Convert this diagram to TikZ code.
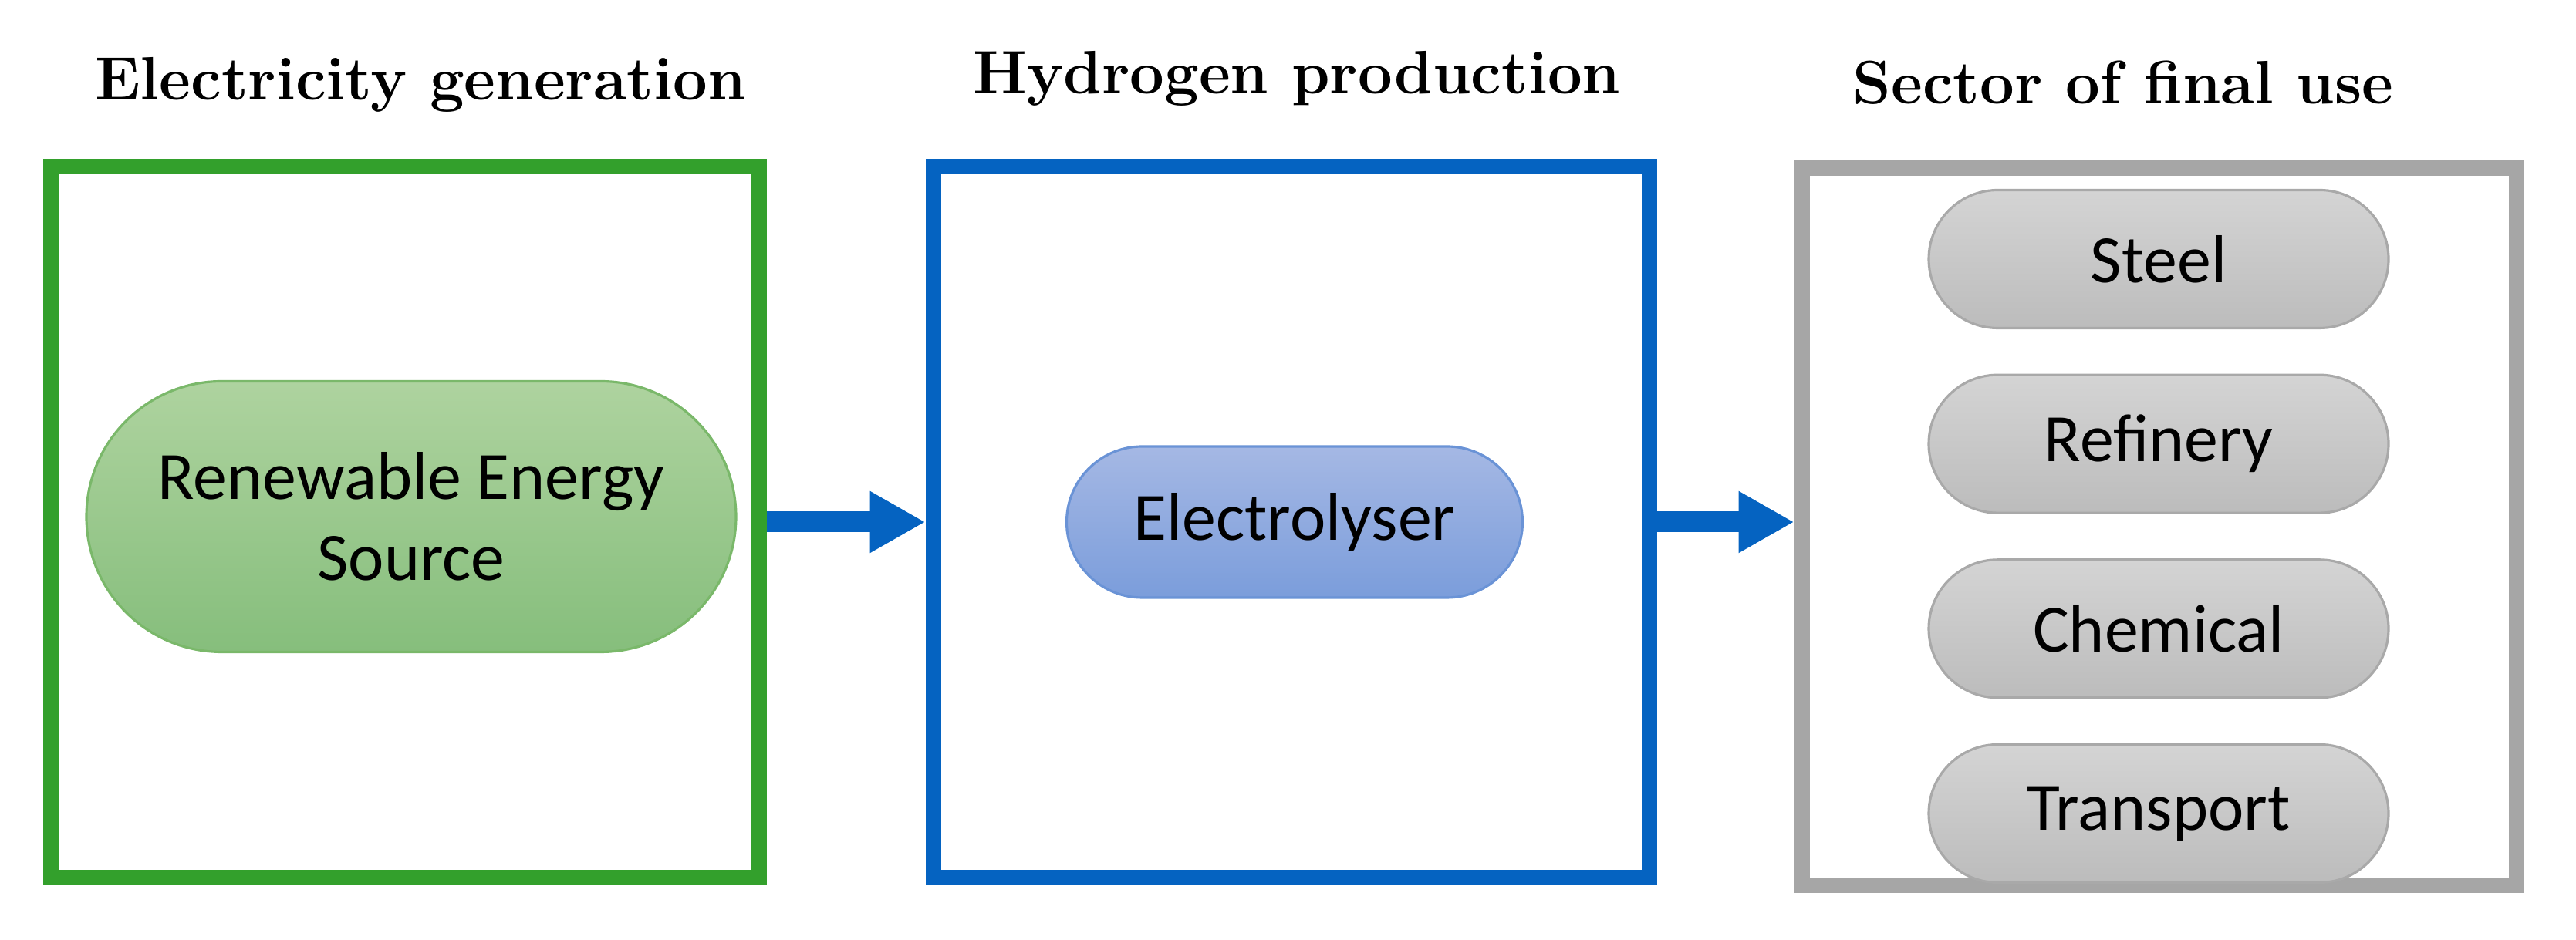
\documentclass[tikz,border=0pt]{standalone}
\usepackage{fontspec}
\newfontfamily\pillfont{Carlito}
\definecolor{StageGreen}{HTML}{33A02C}
\definecolor{StageBlue}{HTML}{0563C1}
\definecolor{StageGray}{HTML}{A6A6A6}
\definecolor{PillGreenA}{HTML}{AED39F}
\definecolor{PillGreenB}{HTML}{86BE7C}
\definecolor{PillGreenD}{HTML}{7AB86A}
\definecolor{PillBlueA}{HTML}{A5B8E4}
\definecolor{PillBlueB}{HTML}{7B9DDB}
\definecolor{PillBlueD}{HTML}{6A93D6}
\definecolor{PillGrayA}{HTML}{D4D4D4}
\definecolor{PillGrayB}{HTML}{BCBCBC}
\definecolor{PillGrayD}{HTML}{A9A9A9}
\usepackage{tikz}
\usetikzlibrary{arrows.meta,positioning,shapes.misc}

\begin{document}
\begin{tikzpicture}[>={Triangle[length=7.2mm,width=7.5mm]},
  stagebox/.style={draw=#1,line width=2mm,minimum height=9.22cm,inner sep=0pt},
  pill/.style n args={3}{rounded rectangle,draw=#1,top color=#2,bottom color=#3,line width=0.9pt,
    inner sep=0pt,align=center,font=\pillfont\fontsize{25}{30}\selectfont},
  stagetitle/.style={anchor=base,inner sep=0pt,font=\bfseries\fontsize{22.6}{27}\selectfont}]
  \useasboundingbox (0,0) rectangle (33.39,12.19);
  % the three stages
  \node[stagebox=StageGreen,minimum width=9.18cm] (elec) at (5.245,5.42) {};
  \node[stagebox=StageBlue,minimum width=9.28cm,right=2.06cm of elec] (hyd) {};
  \node[stagebox=StageGray,minimum width=9.26cm,minimum height=9.3cm] (use) at (27.985,5.36) {};
  \draw[->,line width=2.7mm,StageBlue] (elec.east) -- (hyd.west);
  \draw[->,line width=2.7mm,StageBlue] (hyd.east) -- (hyd.east -| use.west);
  % titles
  \node[stagetitle] (electitle) at (5.45,10.89) {Electricity generation};
  \node[stagetitle] (hydtitle) at (16.81,10.97) {Hydrogen production};
  \node[stagetitle] (usetitle) at (27.52,10.84) {Sector of final use};
  % contents
  \node[pill={PillGreenD}{PillGreenA}{PillGreenB},minimum width=8.42cm,minimum height=3.51cm] (res) at (5.33,5.49) {Renewable Energy\\Source};
  \node[pill={PillBlueD}{PillBlueA}{PillBlueB},minimum width=5.91cm,minimum height=1.96cm] (lyser) at (16.78,5.42) {Electrolyser};
  \node[pill={PillGrayD}{PillGrayA}{PillGrayB},minimum width=5.96cm,minimum height=1.79cm] (steel) at (27.98,8.83) {Steel};
  \node[pill={PillGrayD}{PillGrayA}{PillGrayB},minimum width=5.96cm,minimum height=1.79cm,below=0.575cm of steel] (refinery) {Refinery};
  \node[pill={PillGrayD}{PillGrayA}{PillGrayB},minimum width=5.96cm,minimum height=1.79cm,below=0.575cm of refinery] (chemical) {Chemical};
  \node[pill={PillGrayD}{PillGrayA}{PillGrayB},minimum width=5.96cm,minimum height=1.79cm,below=0.575cm of chemical] (transport) {Transport};
\end{tikzpicture}
\end{document}
